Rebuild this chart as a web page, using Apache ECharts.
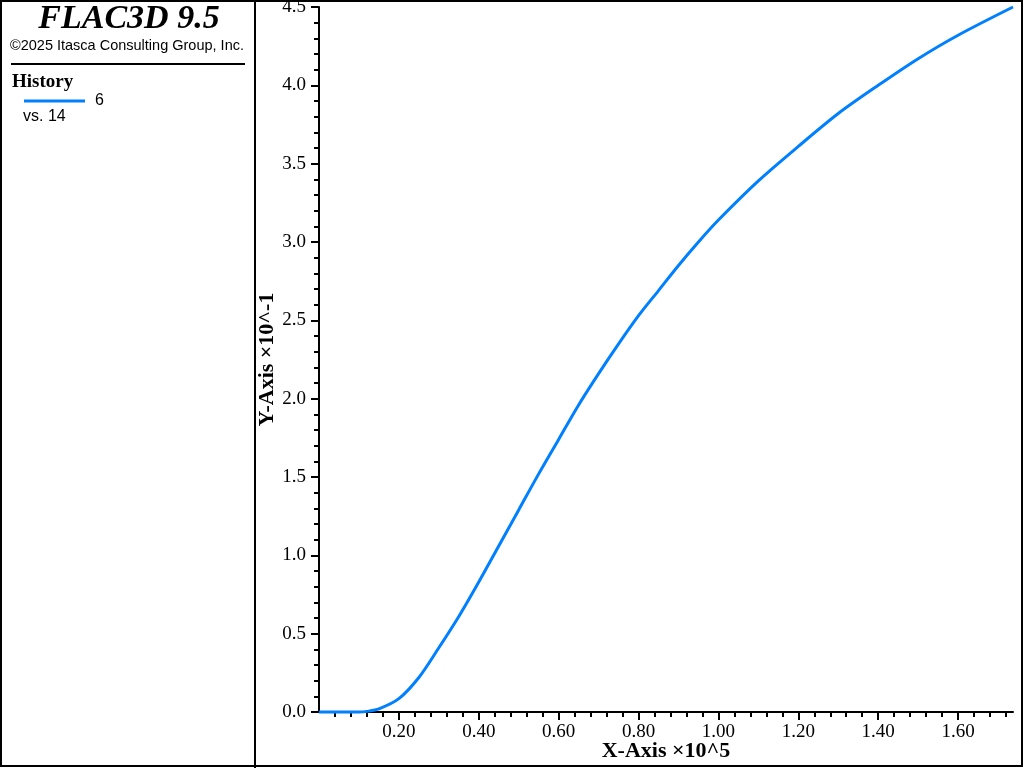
<!DOCTYPE html>
<html>
<head>
<meta charset="utf-8">
<script src="https://cdn.jsdelivr.net/npm/echarts@6/dist/echarts.min.js"></script>
<style>
html,body{margin:0;padding:0;background:#fff;}
#chart{width:1024px;height:768px;}
</style>
</head>
<body>
<div id="chart"></div>
<script>
// X values (×10^5) and Y values (×10^-1)
const xValues = [0, 0.05, 0.10, 0.12, 0.15, 0.20, 0.25, 0.30, 0.35, 0.40, 0.45, 0.50, 0.55, 0.60, 0.65, 0.70, 0.75, 0.80, 0.85, 0.90, 0.95, 1.00, 1.10, 1.20, 1.30, 1.40, 1.50, 1.60, 1.7375];
const yValues = [0, 0, 0, 0.004, 0.02, 0.085, 0.22, 0.41, 0.61, 0.83, 1.06, 1.29, 1.52, 1.74, 1.96, 2.16, 2.35, 2.53, 2.69, 2.85, 3.00, 3.14, 3.39, 3.61, 3.82, 4.00, 4.17, 4.32, 4.5];
const xTickLabels = [0.2, 0.4, 0.6, 0.8, 1.0, 1.2, 1.4, 1.6];
const xMinorTicks = [0.04, 0.08, 0.12, 0.16, 0.24, 0.28, 0.32, 0.36, 0.44, 0.48, 0.52, 0.56, 0.64, 0.68, 0.72, 0.76, 0.84, 0.88, 0.92, 0.96, 1.04, 1.08, 1.12, 1.16, 1.24, 1.28, 1.32, 1.36, 1.44, 1.48, 1.52, 1.56, 1.64, 1.68, 1.72];
const xMin = 0, xMax = 1.7375;
const yMin = 0, yMax = 4.5, yStep = 0.5;
const seriesName = '6';

const chart = echarts.init(document.getElementById('chart'), null, {renderer: 'canvas'});
const serif = '"Liberation Serif", "Times New Roman", serif';
const sans = '"Liberation Sans", Arial, sans-serif';

const option = {
  animation: false,
  backgroundColor: '#fff',
  grid: {left: 319, right: 11, top: 7, bottom: 56, containLabel: false, outerBoundsMode: 'none'},
  legend: {
    left: 19, top: 88,
    icon: 'rect', itemWidth: 61, itemHeight: 3, itemGap: 10,
    data: [seriesName],
    textStyle: {fontFamily: sans, fontSize: 16, color: '#000', padding: [0, 0, 0, 5]}
  },
  xAxis: [{
    type: 'value', min: xMin, max: xMax, position: 'bottom',
    splitLine: {show: false},
    axisLine: {show: true, onZero: false, lineStyle: {color: '#000', width: 2}},
    axisTick: {show: true, length: 8, lineStyle: {color: '#000', width: 2}, customValues: xTickLabels},
    axisLabel: {customValues: xTickLabels, margin: 11, fontFamily: serif, fontSize: 19, color: '#000',
      formatter: v => v.toFixed(2)},
    name: 'X-Axis \u00d710^5', nameLocation: 'middle', nameGap: 28, nameMoveOverlap: false,
    nameTextStyle: {fontFamily: serif, fontSize: 22, fontWeight: 'bold', color: '#000'}
  }, {
    type: 'value', min: xMin, max: xMax, position: 'bottom',
    splitLine: {show: false},
    axisLine: {show: false},
    axisTick: {show: true, length: 5, lineStyle: {color: '#000', width: 2}, customValues: xMinorTicks},
    axisLabel: {show: false}
  }],
  yAxis: {
    type: 'value', min: yMin, max: yMax, interval: yStep,
    splitLine: {show: false},
    axisLine: {show: true, onZero: false, lineStyle: {color: '#000', width: 2}},
    axisTick: {show: true, length: 8, lineStyle: {color: '#000', width: 2}},
    minorTick: {show: true, splitNumber: 5, length: 5, lineStyle: {color: '#000', width: 2}},
    minorSplitLine: {show: false},
    axisLabel: {margin: 13, fontFamily: serif, fontSize: 19, color: '#000', formatter: v => v.toFixed(1)},
    name: 'Y-Axis \u00d710^-1', nameLocation: 'middle', nameGap: 41, nameRotate: 90, nameMoveOverlap: false,
    nameTextStyle: {fontFamily: serif, fontSize: 22, fontWeight: 'bold', color: '#000'}
  },
  series: [{
    name: seriesName, type: 'line',
    data: xValues.map((x, i) => [x, yValues[i]]),
    showSymbol: false, smooth: 0.3,
    lineStyle: {color: '#0080ff', width: 3},
    itemStyle: {color: '#0080ff'},
    clip: false
  }],
  graphic: [
    {type: 'rect', shape: {x: 1, y: 1, width: 1021, height: 765}, style: {fill: null, stroke: '#000', lineWidth: 2}, silent: true},
    {type: 'line', shape: {x1: 255, y1: 0, x2: 255, y2: 768}, style: {stroke: '#000', lineWidth: 2}},
    {type: 'text', x: 129, y: 19, style: {text: 'FLAC3D 9.5', font: 'italic bold 34px ' + serif, fill: '#000', align: 'center', verticalAlign: 'middle'}},
    {type: 'text', x: 127, y: 46, style: {text: '\u00a92025 Itasca Consulting Group, Inc.', font: '14.5px ' + sans, fill: '#000', align: 'center', verticalAlign: 'middle'}},
    {type: 'line', shape: {x1: 11, y1: 64, x2: 245, y2: 64}, style: {stroke: '#000', lineWidth: 2}},
    {type: 'text', x: 12, y: 82, style: {text: 'History', font: 'bold 19px ' + serif, fill: '#000', align: 'left', verticalAlign: 'middle'}},
    {type: 'text', x: 23, y: 117, style: {text: 'vs. 14', font: '16px ' + sans, fill: '#000', align: 'left', verticalAlign: 'middle'}}
  ]
};
chart.setOption(option);
</script>
</body>
</html>
